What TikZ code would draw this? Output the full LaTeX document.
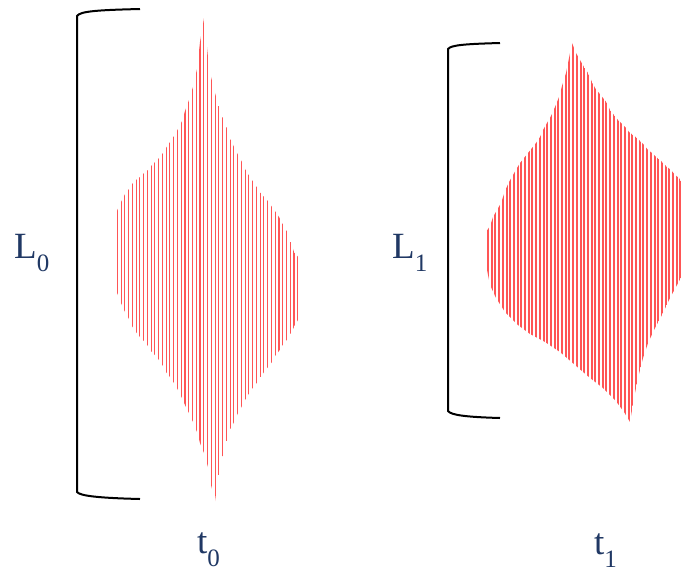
\documentclass[tikz,border=0pt]{standalone}
\usepackage{fontspec}
\setmainfont{Liberation Serif}
\definecolor{navy}{RGB}{32,56,100}
\definecolor{stripe}{RGB}{255,85,85}
\newcommand\subtxt[1]{\raisebox{-13pt}{\fontsize{25}{30}\selectfont #1}}
\begin{document}
\begin{tikzpicture}[x=1pt,y=-1pt,
  bracket/.style={draw=black,line width=2pt},
  stripeL/.style={draw=stripe,line width=1.1pt},
  stripeR/.style={draw=stripe,line width=2pt},
  lab/.style={text=navy,font=\fontsize{37}{40}\selectfont,inner sep=0pt,anchor=base west}]
\useasboundingbox (0,0) rectangle (683,571);

% left shape
\begin{scope}
\clip (116,213) -- (121,202) -- (125,194) -- (129,189) -- (132,184) -- (136,180) -- (140,177) -- (144,173) -- (148,170) -- (151,166) -- (155,162) -- (159,158) -- (163,153) -- (166,148) -- (170,142) -- (174,136) -- (178,129) -- (182,121) -- (185,111) -- (189,100) -- (193,87) -- (197,69) -- (200,42) -- (204,18) -- (208,57) -- (211,77) -- (215,93) -- (219,107) -- (223,118) -- (227,128) -- (230,138) -- (234,147) -- (238,155) -- (242,162) -- (245,169) -- (249,175) -- (253,181) -- (257,187) -- (260,192) -- (264,197) -- (268,201) -- (272,207) -- (275,211) -- (279,217) -- (283,224) -- (287,231) -- (290,240) -- (294,252) -- (299,258) -- (299,318) -- (294,327) -- (290,335) -- (287,340) -- (283,345) -- (279,351) -- (275,356) -- (272,362) -- (268,367) -- (264,372) -- (260,378) -- (257,383) -- (253,388) -- (249,394) -- (245,400) -- (242,406) -- (238,413) -- (234,422) -- (230,430) -- (227,440) -- (223,455) -- (219,473) -- (215,501) -- (211,485) -- (208,467) -- (204,453) -- (200,443) -- (197,432) -- (193,422) -- (189,413) -- (185,405) -- (182,398) -- (178,390) -- (174,383) -- (170,377) -- (166,372) -- (163,366) -- (159,360) -- (155,355) -- (151,351) -- (148,346) -- (144,341) -- (140,337) -- (136,332) -- (132,326) -- (129,319) -- (125,312) -- (121,303) -- (116,290) -- cycle;
\foreach \i in {0,...,48} \draw[stripeL] ({117.3+3.76*\i},0) -- ++(0,571);
\end{scope}

% right shape
\begin{scope}
\clip (486,232) -- (490,226) -- (493,217) -- (497,210) -- (501,203) -- (505,191) -- (509,182) -- (513,175) -- (517,168) -- (520,163) -- (524,158) -- (528,153) -- (532,148) -- (536,143) -- (540,137) -- (543,130) -- (547,123) -- (551,116) -- (555,107) -- (559,97) -- (562,86) -- (566,73) -- (569,58) -- (572,43) -- (576,53) -- (580,60) -- (584,67) -- (588,73) -- (592,82) -- (595,88) -- (599,93) -- (603,98) -- (607,103) -- (610,110) -- (614,115) -- (618,120) -- (622,124) -- (626,128) -- (629,132) -- (633,135) -- (637,138) -- (641,142) -- (644,145) -- (648,150) -- (652,153) -- (656,157) -- (660,160) -- (663,163) -- (667,167) -- (671,170) -- (675,175) -- (679,178) -- (684,186) -- (684,272) -- (677,285) -- (670,298) -- (662,315) -- (655,328) -- (648,343) -- (643,358) -- (638,378) -- (634,398) -- (630,422) -- (624,412) -- (615,400) -- (603,388) -- (590,378) -- (575,365) -- (560,352) -- (545,342) -- (530,334) -- (518,325) -- (505,312) -- (496,298) -- (490,285) -- (486,265) -- cycle;
\foreach \i in {0,...,53} \draw[stripeR] ({488+3.7*\i},0) -- ++(0,571);
\end{scope}

% brackets
\draw[bracket] (140,9) .. controls (100,10) and (80,11) .. (77,16) -- (77,492) .. controls (80,496) and (100,498) .. (140,499);
\draw[bracket] (500,43) .. controls (465,44) and (451,45) .. (448,49) -- (448,411) .. controls (451,415) and (465,417) .. (500,418);

% labels
\node[lab] (L0) at (14,258) {L\subtxt{0}};
\node[lab] (t0) at (197,553) {t\subtxt{0}};
\node[lab] (L1) at (392,258) {L\subtxt{1}};
\node[lab] (t1) at (594,554) {t\subtxt{1}};
\end{tikzpicture}
\end{document}
